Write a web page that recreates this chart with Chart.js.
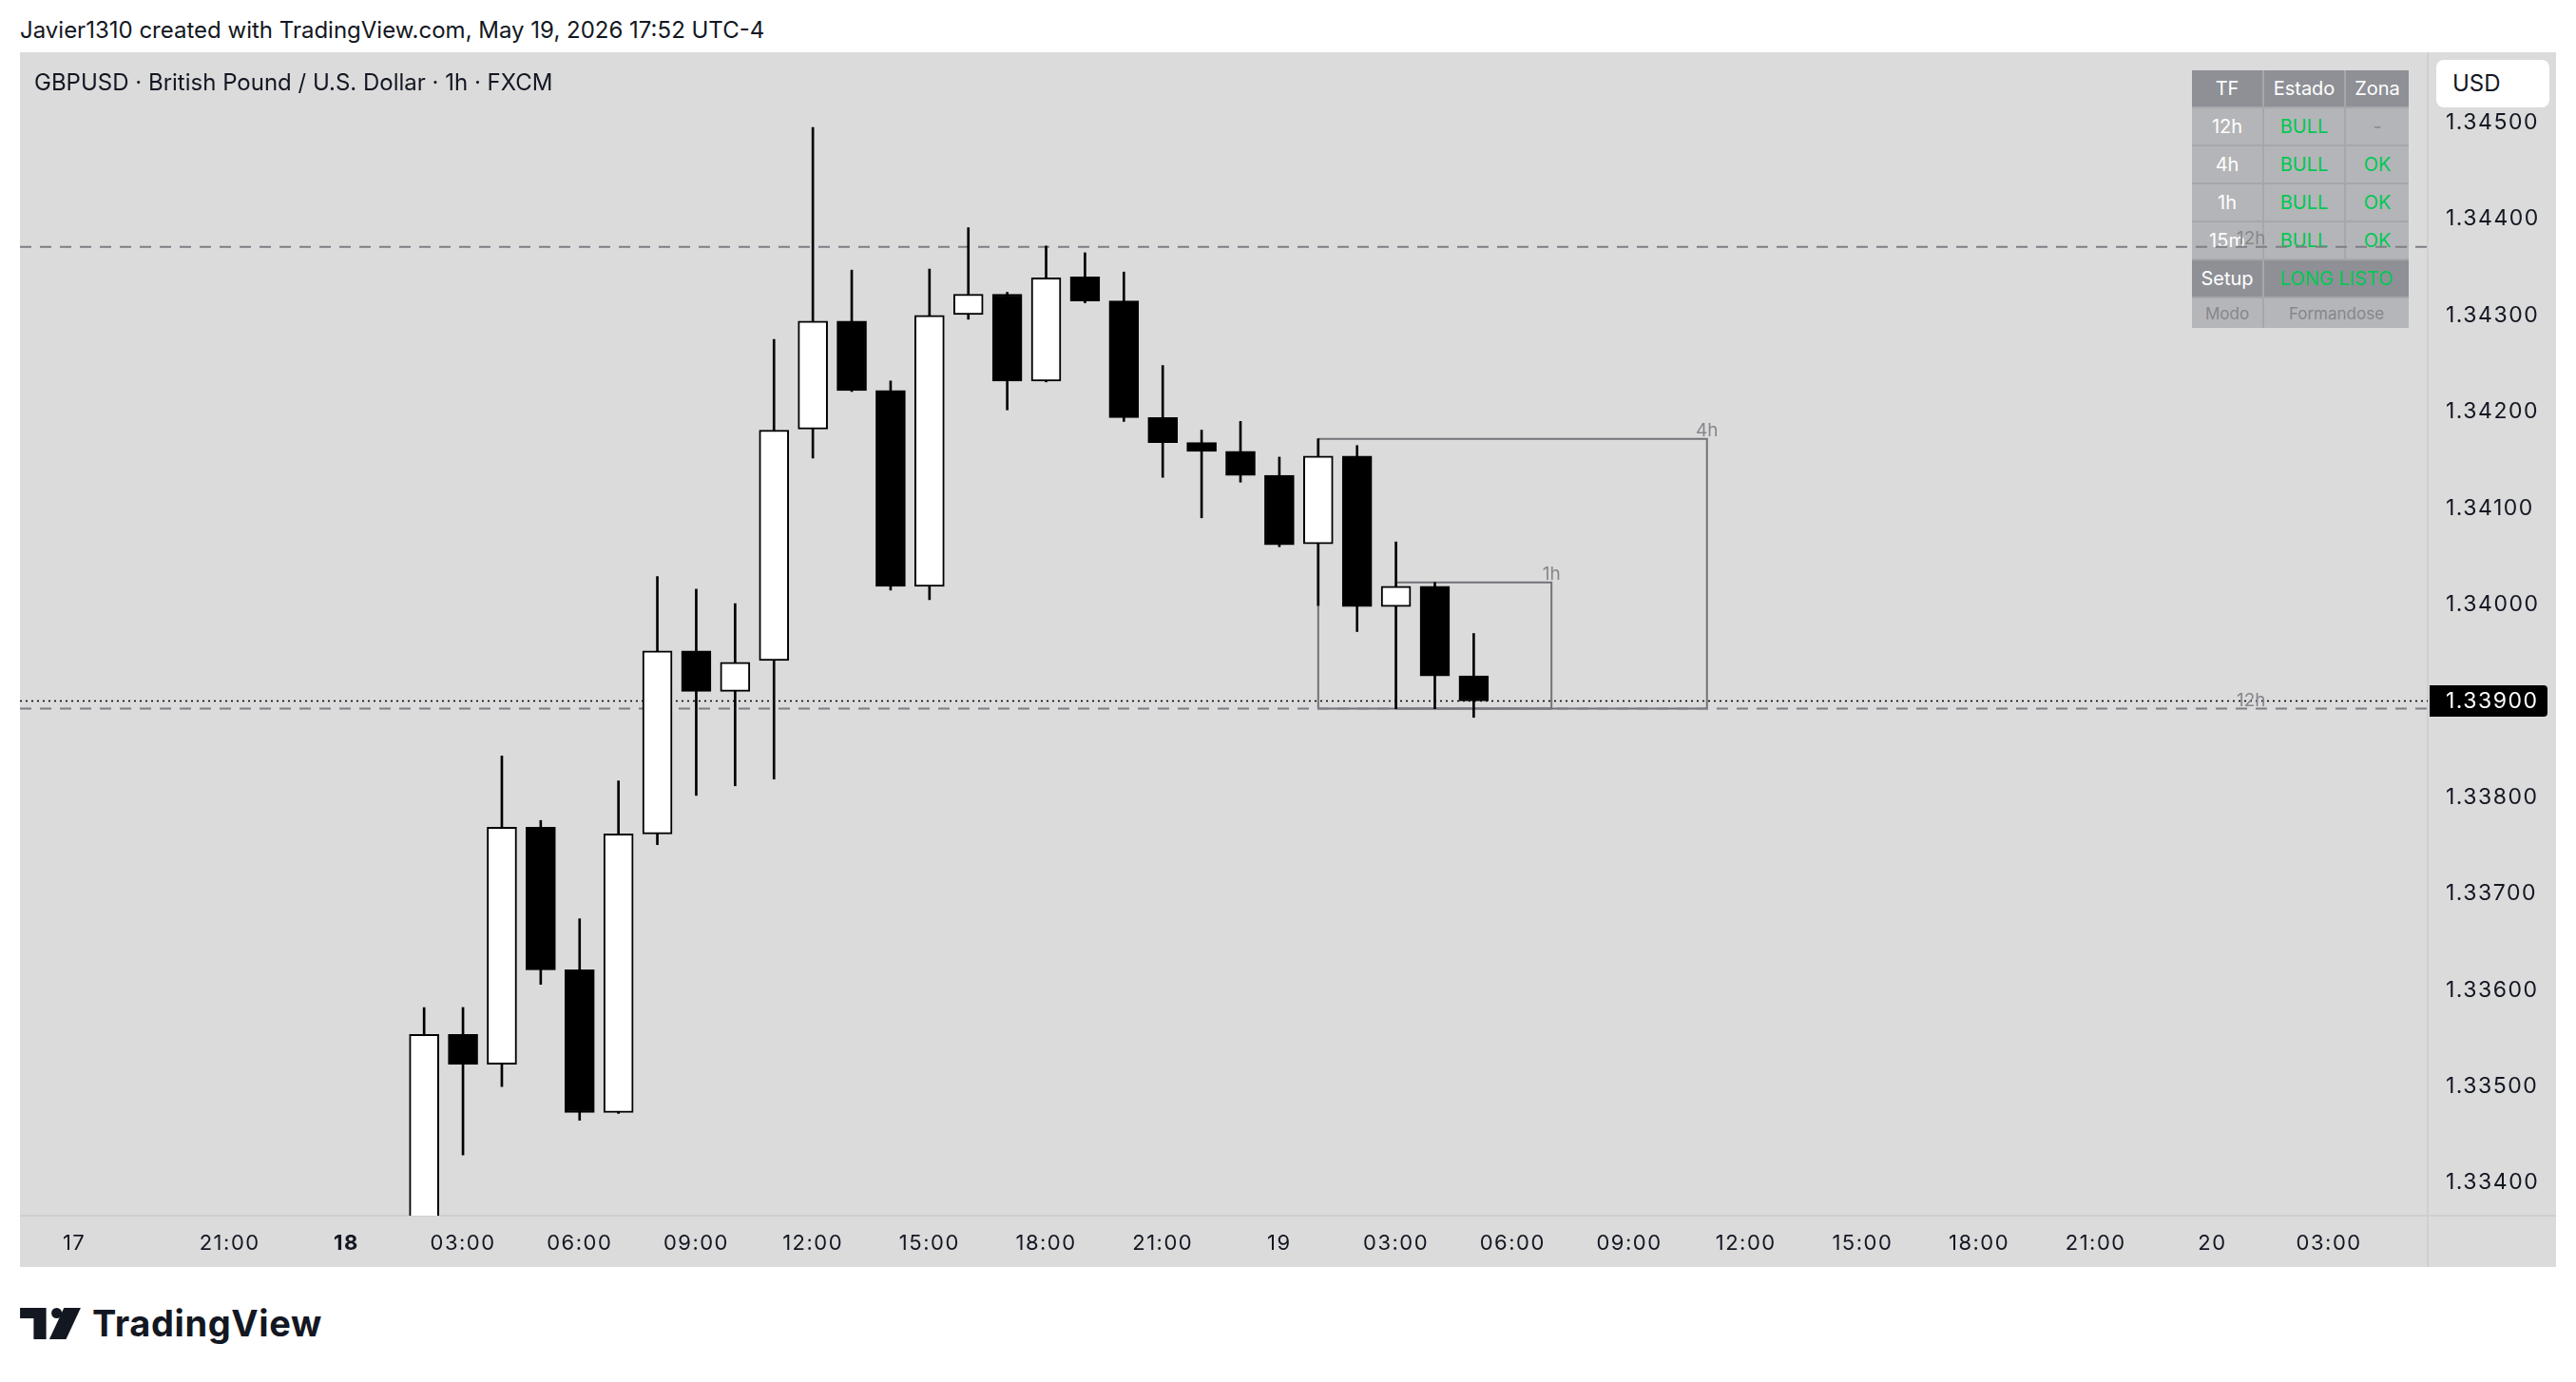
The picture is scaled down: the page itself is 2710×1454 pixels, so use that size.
<!DOCTYPE html>
<html>
<head>
<meta charset="utf-8">
<script src="https://cdn.jsdelivr.net/npm/chart.js@4.4.1/dist/chart.umd.min.js"></script>
<style>
body{margin:0;background:#fff;width:2710px;height:1454px;position:relative;overflow:hidden;font-family:Inter,"Noto Sans",sans-serif;color:#131722}
#credit{position:absolute;left:21px;top:17px;font-size:24px;line-height:30px;white-space:nowrap}
#frame{position:absolute;left:21px;top:55px;width:2668px;height:1278px;background:#dbdbdb}
#vsep{position:absolute;left:2532px;top:0;width:2px;height:1278px;background:#cfcfcf}
#hsep{position:absolute;left:0;top:1223px;width:2668px;height:2px;background:#cfcfcf}
#chart{position:absolute;left:0;top:0;z-index:2}
#title{position:absolute;left:15px;top:17px;font-size:24px;line-height:30px;white-space:nowrap;z-index:3}
#usd{position:absolute;left:2542px;top:8px;width:119px;height:50px;background:#fff;border-radius:8px;font-size:24px;line-height:50px;padding-left:17px;box-sizing:border-box;z-index:3}
#tbl{position:absolute;left:2285px;top:19px;display:grid;grid-template-columns:74px 84px 66px;grid-template-rows:38px 38px 38px 38px 38px 38px 31px;gap:2px;background:#a5a7ab;z-index:1}
#tbl div{display:flex;align-items:center;justify-content:center;font-size:20px}
#tbl .h{background:#8e9096;color:#fff}
#tbl .c{background:#b4b5b8;color:#fff}
#tbl .g{color:#00c853}
#tbl .m{color:#8a8c92}
#tbl .d{background:#b5b6b9;color:#85878d;font-size:17px}
#tbl .s2{grid-column:span 2}
#logo{position:absolute;left:21px;top:1370px;height:44px;display:flex;align-items:center}
#logo span{font-size:38px;font-weight:700;margin-left:12px;letter-spacing:0.6px;color:#131722}
</style>
</head>
<body>
<div id="credit">Javier1310 created with TradingView.com, May 19, 2026 17:52 UTC-4</div>
<div id="frame">
  <div id="vsep"></div>
  <div id="hsep"></div>
  <div id="tbl">
    <div class="h">TF</div><div class="h">Estado</div><div class="h">Zona</div>
    <div class="c">12h</div><div class="c g">BULL</div><div class="c m">-</div>
    <div class="c">4h</div><div class="c g">BULL</div><div class="c g">OK</div>
    <div class="c">1h</div><div class="c g">BULL</div><div class="c g">OK</div>
    <div class="c">15m</div><div class="c g">BULL</div><div class="c g">OK</div>
    <div class="h">Setup</div><div class="h g s2">LONG LISTO</div>
    <div class="d">Modo</div><div class="d s2">Formandose</div>
  </div>
  <canvas id="chart" width="2668" height="1278"></canvas>
  <div id="title">GBPUSD · British Pound / U.S. Dollar · 1h · FXCM</div>
  <div id="usd">USD</div>
</div>
<div id="logo">
  <svg width="64" height="33" viewBox="0 0 58 30">
    <path d="M0 0H25V30H13V10H0Z" fill="#131722"/>
    <circle cx="35" cy="5" r="5" fill="#131722"/>
    <path d="M42 0H58L44 30H28Z" fill="#131722"/>
  </svg>
  <span>TradingView</span>
</div>
<script>
// hours counted from Sunday 17:00 (first bar of the 17th)
var times  = [9,10,11,12,13,14,15,16,17,18,19,20,21,22,23,24,25,26,27,28,29,30,31,32,33,34,35,36];
var opens  = [1.33300,1.33554,1.33523,1.33769,1.33621,1.33473,1.33762,1.33952,1.33910,1.33942,1.34182,1.34294,1.34222,1.34019,1.34301,1.34322,1.34232,1.34340,1.34315,1.34194,1.34168,1.34159,1.34134,1.34063,1.34154,1.33998,1.34019,1.33926];
var highs  = [1.33582,1.33582,1.33843,1.33776,1.33674,1.33817,1.34029,1.34016,1.34001,1.34275,1.34495,1.34347,1.34232,1.34348,1.34391,1.34324,1.34372,1.34365,1.34345,1.34248,1.34181,1.34190,1.34153,1.34172,1.34165,1.34065,1.34023,1.33970];
var lows   = [1.33260,1.33429,1.33500,1.33606,1.33465,1.33472,1.33751,1.33802,1.33812,1.33819,1.34152,1.34221,1.34015,1.34005,1.34296,1.34202,1.34231,1.34313,1.34190,1.34132,1.34090,1.34127,1.34060,1.33999,1.33972,1.33892,1.33892,1.33883];
var closes = [1.33554,1.33523,1.33769,1.33621,1.33473,1.33762,1.33952,1.33910,1.33940,1.34181,1.34294,1.34222,1.34019,1.34300,1.34322,1.34232,1.34339,1.34315,1.34194,1.34168,1.34159,1.34134,1.34062,1.34154,1.33998,1.34019,1.33926,1.33900];

var xTickPos    = [0,4,7,10,13,16,19,22,25,28,31,34,37,40,43,46,49,52,55,58];
var xTickLabels = ['17','21:00','18','03:00','06:00','09:00','12:00','15:00','18:00','21:00','19','03:00','06:00','09:00','12:00','15:00','18:00','21:00','20','03:00'];
var yTicks = [1.334,1.335,1.336,1.337,1.338,1.339,1.340,1.341,1.342,1.343,1.344,1.345];

var xMin = -1.396, xMax = 60.54;
var yMin = 1.33366, yMax = 1.34573;

var level12hUpper = 1.34371;
var level12hLower = 1.33892;
var lastPrice = 1.33900;
var box4h = {from: 32, to: 42, top: 1.34172, bottom: 1.33892};
var box1h = {from: 34, to: 38, top: 1.34023, bottom: 1.33892};
var labelX12h = 56;

var bodies = times.map(function(t, i){ return {x: t, y: [opens[i], closes[i]]}; });
var wicks = times.map(function(t, i){ return {x: t, y: [lows[i], highs[i]]}; });
var bodyColors = times.map(function(t, i){ return closes[i] >= opens[i] ? '#ffffff' : '#000000'; });

function hline(v){ return [{x: xMin, y: v}, {x: xMax, y: v}]; }
function rect(b){ return [{x:b.from,y:b.top},{x:b.to,y:b.top},{x:b.to,y:b.bottom},{x:b.from,y:b.bottom},{x:b.from,y:b.top}]; }

var FONT = 'Inter';

var extras = {
  id: 'extras',
  beforeDraw: function(chart){
    // axis labels in the reference are set a little wider
    chart.ctx.letterSpacing = '1.5px';
  },
  afterDatasetsDraw: function(chart){
    var ctx = chart.ctx, x = chart.scales.x, y = chart.scales.y;
    ctx.save();
    ctx.letterSpacing = '0px';
    ctx.fillStyle = '#85878c';
    ctx.font = '19px ' + FONT;
    ctx.textAlign = 'center';
    ctx.textBaseline = 'alphabetic';
    ctx.fillText('4h', x.getPixelForValue(box4h.to), y.getPixelForValue(box4h.top) - 3);
    ctx.fillText('1h', x.getPixelForValue(box1h.to), y.getPixelForValue(box1h.top) - 3);
    ctx.fillText('12h', x.getPixelForValue(labelX12h), y.getPixelForValue(level12hUpper) - 3);
    ctx.fillText('12h', x.getPixelForValue(labelX12h), y.getPixelForValue(level12hLower) - 3);
    ctx.restore();
  },
  afterDraw: function(chart){
    var ctx = chart.ctx, y = chart.scales.y.getPixelForValue(lastPrice);
    var left = chart.chartArea.right + 2;
    ctx.save();
    ctx.fillStyle = '#000';
    ctx.beginPath();
    ctx.roundRect(left, y - 16.5, 124, 33, [0, 4, 4, 0]);
    ctx.fill();
    ctx.fillStyle = '#fff';
    ctx.font = '23px ' + FONT;
    ctx.letterSpacing = '1.5px';
    ctx.textBaseline = 'middle';
    ctx.fillText(lastPrice.toFixed(5), chart.chartArea.right + 19, y + 1);
    ctx.restore();
  }
};

new Chart(document.getElementById('chart'), {
  type: 'bar',
  data: {
    datasets: [
      {data: bodies, backgroundColor: bodyColors, borderColor: '#000', borderWidth: 2, borderSkipped: false, barThickness: 31, grouped: false, order: 1},
      {data: wicks, backgroundColor: '#000', borderWidth: 0, barThickness: 2, grouped: false, order: 2},
      {type: 'line', data: hline(level12hUpper), borderColor: '#7d7f85', borderWidth: 2, borderDash: [12, 9], pointRadius: 0, order: 5},
      {type: 'line', data: hline(level12hLower), borderColor: '#7d7f85', borderWidth: 2, borderDash: [12, 9], pointRadius: 0, order: 5},
      {type: 'line', data: hline(lastPrice), borderColor: '#000', borderWidth: 1.5, borderDash: [2, 4], pointRadius: 0, order: 4},
      {type: 'line', data: rect(box4h), borderColor: '#717378', borderWidth: 2, pointRadius: 0, order: 6},
      {type: 'line', data: rect(box1h), borderColor: '#717378', borderWidth: 2, pointRadius: 0, order: 6}
    ]
  },
  options: {
    responsive: false,
    animation: false,
    devicePixelRatio: 1,
    layout: {padding: 0},
    plugins: {legend: {display: false}, tooltip: {enabled: false}},
    scales: {
      x: {
        type: 'linear', min: xMin, max: xMax, offset: false,
        grid: {display: false, drawTicks: false}, border: {display: false},
        afterBuildTicks: function(s){ s.ticks = xTickPos.map(function(v){ return {value: v}; }); },
        afterFit: function(s){ s.height = 54; s.paddingLeft = 0; s.paddingRight = 0; },
        ticks: {
          autoSkip: false, maxRotation: 0, padding: 16, color: '#131722',
          callback: function(v, i){ return xTickLabels[i]; },
          font: function(c){ return {family: FONT, size: 22, weight: xTickLabels[c.index] === '18' ? '700' : '400'}; }
        }
      },
      y: {
        position: 'right', min: yMin, max: yMax, beginAtZero: false,
        grid: {display: false, drawTicks: false}, border: {display: false},
        afterBuildTicks: function(s){ s.ticks = yTicks.map(function(v){ return {value: v}; }); },
        afterFit: function(s){ s.width = 135; s.paddingTop = 0; s.paddingBottom = 0; },
        ticks: {
          padding: 19, color: '#131722', font: {family: FONT, size: 23},
          callback: function(v){ return v.toFixed(5); }
        }
      }
    }
  },
  plugins: [extras]
});
</script>
</body>
</html>
